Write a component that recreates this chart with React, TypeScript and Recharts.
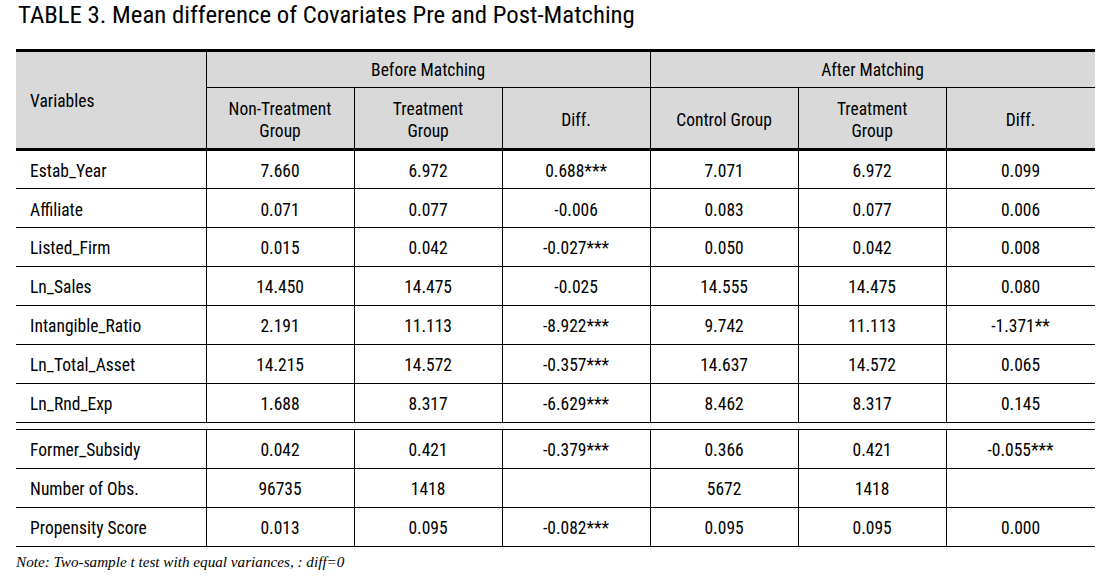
import { ComposedChart, XAxis, YAxis, Scatter, ReferenceLine, ReferenceArea } from 'recharts';

const variables = [
  'Estab_Year',
  'Affiliate',
  'Listed_Firm',
  'Ln_Sales',
  'Intangible_Ratio',
  'Ln_Total_Asset',
  'Ln_Rnd_Exp',
  'Former_Subsidy',
  'Number of Obs.',
  'Propensity Score',
];
const beforeNonTreat = ['7.660', '0.071', '0.015', '14.450', '2.191', '14.215', '1.688', '0.042', '96735', '0.013'];
const beforeTreat = ['6.972', '0.077', '0.042', '14.475', '11.113', '14.572', '8.317', '0.421', '1418', '0.095'];
const beforeDiff = ['0.688***', '-0.006', '-0.027***', '-0.025', '-8.922***', '-0.357***', '-6.629***', '-0.379***', '', '-0.082***'];
const afterControl = ['7.071', '0.083', '0.050', '14.555', '9.742', '14.637', '8.462', '0.366', '5672', '0.095'];
const afterTreat = ['6.972', '0.077', '0.042', '14.475', '11.113', '14.572', '8.317', '0.421', '1418', '0.095'];
const afterDiff = ['0.099', '0.006', '0.008', '0.080', '-1.371**', '0.065', '0.145', '-0.055***', '', '0.000'];

const groupHeaders = ['Before Matching', 'After Matching'];
const subHeaders = ['Non-Treatment\nGroup', 'Treatment\nGroup', 'Diff.', 'Control Group', 'Treatment\nGroup', 'Diff.'];

const columns = [beforeNonTreat, beforeTreat, beforeDiff, afterControl, afterTreat, afterDiff];

// layout in table units: x = data column widths, y = row heights
const colEdges = [0, 1.284, 2.284, 3.284, 4.284, 5.284, 6.284, 7.29];
const HEAD_SPLIT = 0.974;
const HEAD_H = 2.564;
const GAP = 0.18;
const SPLIT_AFTER = 7;
const TEXT_X = 0.095;

const rowTop = (i: number) => HEAD_H + i + (i >= SPLIT_AFTER ? GAP : 0);
const Y_MAX = rowTop(variables.length);
const colMid = (a: number, b: number) => (colEdges[a] + colEdges[b]) / 2;

const FONT = "'Liberation Sans Narrow', 'Roboto Condensed', 'DejaVu Sans Condensed', sans-serif";

const nameCells = [
  { x: TEXT_X, y: HEAD_H / 2, label: 'Variables' },
  ...variables.map((v, i) => ({ x: TEXT_X, y: rowTop(i) + 0.5, label: v })),
];

const centerCells = [
  { x: colMid(1, 4), y: HEAD_SPLIT / 2, label: groupHeaders[0] },
  { x: colMid(4, 7), y: HEAD_SPLIT / 2, label: groupHeaders[1] },
  ...subHeaders.map((s, j) => ({ x: colMid(j + 1, j + 2), y: (HEAD_SPLIT + HEAD_H) / 2, label: s })),
  ...columns.flatMap((col, j) =>
    col.map((val, i) => ({ x: colMid(j + 1, j + 2), y: rowTop(i) + 0.5, label: val }))
  ),
];

const cellText = (anchor: 'start' | 'middle') => (props: any) => {
  const { cx, cy, payload } = props;
  const lines = String(payload.label).split('\n');
  const first = -((lines.length - 1) / 2) * 1.26 + 0.42;
  return (
    <text x={cx} y={cy} textAnchor={anchor} fontSize={17.5} fill="#000" fontFamily={FONT}>
      {lines.map((l, k) => (
        <tspan key={k} x={cx} dy={k === 0 ? `${first}em` : '1.26em'}>
          {l}
        </tspan>
      ))}
    </text>
  );
};

const hLines = [
  ...Array.from({ length: SPLIT_AFTER - 1 }, (_, k) => HEAD_H + k + 1),
  rowTop(SPLIT_AFTER) - GAP,
  rowTop(SPLIT_AFTER),
  ...Array.from({ length: variables.length - SPLIT_AFTER }, (_, k) => rowTop(SPLIT_AFTER + k + 1)),
];

const vLines = colEdges.slice(1, -1).map((x, k) => ({ x, top: k === 0 || k === 3 ? 0 : HEAD_SPLIT }));

const lineStyle = { stroke: '#000', strokeWidth: 1, ifOverflow: 'visible' as const, shapeRendering: 'crispEdges' };

export default function App() {
  return (
    <div style={{ position: 'absolute', left: 0, top: 0, width: 1107, height: 577, background: '#fff' }}>
      <ComposedChart width={1107} height={577} margin={{ top: 50, right: 12, bottom: 31, left: 16 }}>
        <XAxis type="number" dataKey="x" domain={[0, colEdges[colEdges.length - 1]]} hide />
        <YAxis type="number" dataKey="y" domain={[0, Y_MAX]} reversed hide />
        <ReferenceArea y1={0} y2={HEAD_H} fill="#d9d9d9" fillOpacity={1} stroke="none" ifOverflow="visible" />
        {hLines.map((y, k) => (
          <ReferenceLine key={`h${k}`} y={y} {...lineStyle} />
        ))}
        <ReferenceLine
          segment={[{ x: colEdges[1], y: HEAD_SPLIT }, { x: colEdges[7], y: HEAD_SPLIT }]}
          {...lineStyle}
        />
        {vLines.map((v, k) => [
          <ReferenceLine
            key={`va${k}`}
            segment={[{ x: v.x, y: v.top }, { x: v.x, y: rowTop(SPLIT_AFTER) - GAP }]}
            {...lineStyle}
          />,
          <ReferenceLine
            key={`vb${k}`}
            segment={[{ x: v.x, y: rowTop(SPLIT_AFTER) }, { x: v.x, y: Y_MAX }]}
            {...lineStyle}
          />,
        ])}
        <ReferenceLine y={0} {...lineStyle} strokeWidth={3} />
        <ReferenceLine y={HEAD_H} {...lineStyle} strokeWidth={3} />
        <Scatter data={nameCells} shape={cellText('start')} isAnimationActive={false} />
        <Scatter data={centerCells} shape={cellText('middle')} isAnimationActive={false} />
        <text x={18} y={23} fontSize={24.8} fill="#000" fontFamily={FONT}>
          TABLE 3. Mean difference of Covariates Pre and Post-Matching
        </text>
        <text x={16} y={567} fontSize={15.2} fill="#000" fontStyle="italic" fontFamily="'Liberation Serif', serif">
          Note: Two-sample t test with equal variances, : diff=0
        </text>
      </ComposedChart>
    </div>
  );
}
